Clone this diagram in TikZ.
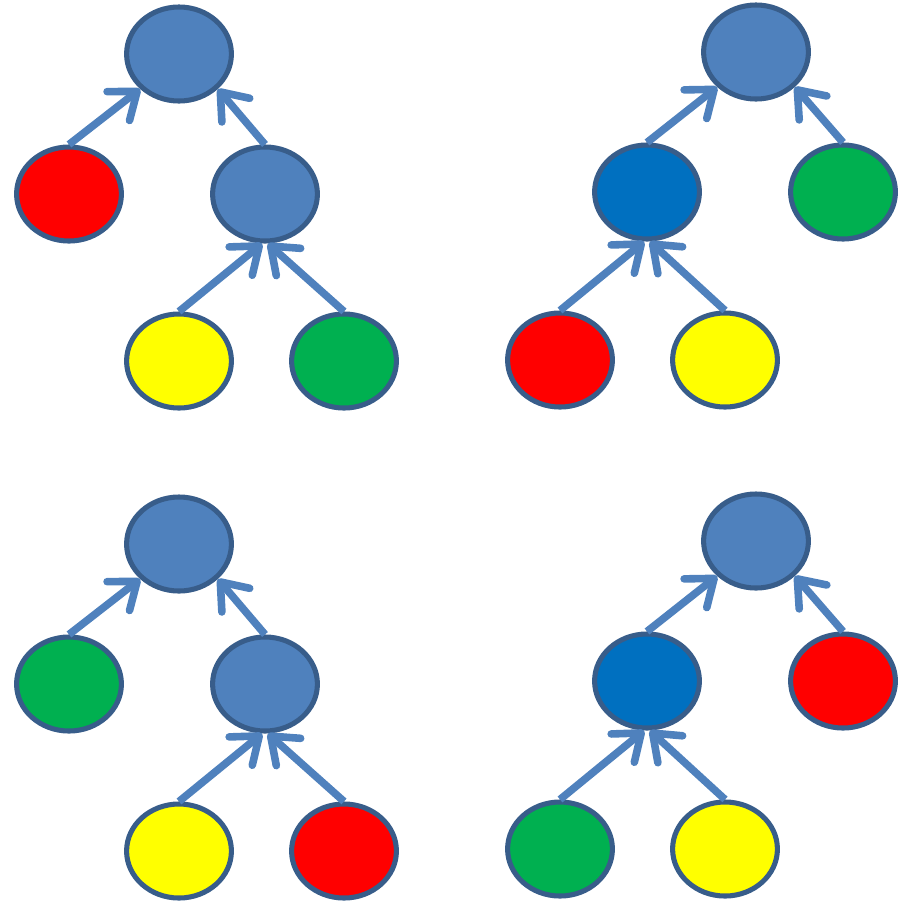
\documentclass[tikz,border=0pt]{standalone}
\usepackage{tikz}
\usepackage{xcolor}
\usetikzlibrary{arrows.meta,shapes.geometric}

\definecolor{nodeblue}{HTML}{4F81BD}
\definecolor{darkblue}{HTML}{0070C0}
\definecolor{rimblue}{HTML}{385D8A}
\definecolor{nodered}{HTML}{FF0000}
\definecolor{nodegreen}{HTML}{00B050}
\definecolor{nodeyellow}{HTML}{FFFF00}

\begin{document}
\begin{tikzpicture}[
          x=0.025cm, y=-0.025cm,
          nd/.style={ellipse, draw=rimblue, line width=3.6pt, inner sep=0pt,
                     minimum width=2.62cm, minimum height=2.35cm},
          arr/.style={draw=nodeblue, line width=5.4pt,
                      -{Straight Barb[length=17pt, width=26pt, round]}}
      ]
        \useasboundingbox (0,0) rectangle (906,904);
        % upper left tree
        \node[nd, fill=nodeblue] (r1) at (179,54) {};
        \node[nd, fill=nodered] (a1) at (69,194) {};
        \node[nd, fill=nodeblue] (b1) at (265,194) {};
        \node[nd, fill=nodeyellow] (c1) at (179,361) {};
        \node[nd, fill=nodegreen] (d1) at (344,361) {};
        \draw[arr] (a1.north) -- (r1.south west);
        \draw[arr] (b1.north) -- (r1.south east);
        \draw[arr] (c1.north) -- ([xshift=-2pt]b1.south);
        \draw[arr] (d1.north) -- ([xshift=2pt]b1.south);
        % upper right tree
        \node[nd, fill=nodeblue] (r2) at (756,52) {};
        \node[nd, fill=darkblue] (a2) at (647,192) {};
        \node[nd, fill=nodegreen] (b2) at (843,192) {};
        \node[nd, fill=nodered] (c2) at (560,360) {};
        \node[nd, fill=nodeyellow] (d2) at (725,360) {};
        \draw[arr] (a2.north) -- (r2.south west);
        \draw[arr] (b2.north) -- (r2.south east);
        \draw[arr] (c2.north) -- ([xshift=-2pt]a2.south);
        \draw[arr] (d2.north) -- ([xshift=2pt]a2.south);
        % lower left tree
        \node[nd, fill=nodeblue] (r3) at (179,544) {};
        \node[nd, fill=nodegreen] (a3) at (69,684) {};
        \node[nd, fill=nodeblue] (b3) at (265,684) {};
        \node[nd, fill=nodeyellow] (c3) at (179,851) {};
        \node[nd, fill=nodered] (d3) at (344,851) {};
        \draw[arr] (a3.north) -- (r3.south west);
        \draw[arr] (b3.north) -- (r3.south east);
        \draw[arr] (c3.north) -- ([xshift=-2pt]b3.south);
        \draw[arr] (d3.north) -- ([xshift=2pt]b3.south);
        % lower right tree
        \node[nd, fill=nodeblue] (r4) at (756,541) {};
        \node[nd, fill=darkblue] (a4) at (647,681) {};
        \node[nd, fill=nodered] (b4) at (843,681) {};
        \node[nd, fill=nodegreen] (c4) at (560,849) {};
        \node[nd, fill=nodeyellow] (d4) at (725,849) {};
        \draw[arr] (a4.north) -- (r4.south west);
        \draw[arr] (b4.north) -- (r4.south east);
        \draw[arr] (c4.north) -- ([xshift=-2pt]a4.south);
        \draw[arr] (d4.north) -- ([xshift=2pt]a4.south);
      \end{tikzpicture}
\end{document}
